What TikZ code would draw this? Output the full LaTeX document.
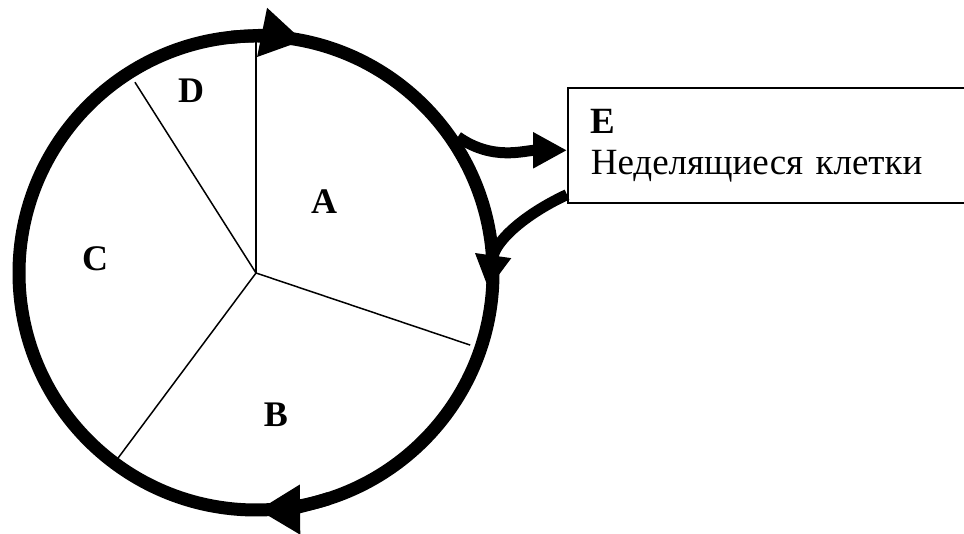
\documentclass[tikz,border=0pt]{standalone}
\usepackage{fontspec}
\setmainfont{Liberation Serif}
\usetikzlibrary{arrows.meta}

\begin{document}
\begin{tikzpicture}[
	x=1pt,y=1pt,
	font=\fontsize{37}{41}\selectfont,
	phase/.style={font=\fontsize{36}{40}\selectfont\bfseries},
	sector/.style={line width=1.5pt},
	ring/.style={circle,draw,line width=13pt,minimum size=474pt,inner sep=0pt},
	cycletip/.style={-{Triangle[length=42pt,width=47pt]},line width=13pt},
	exit/.style={-{Triangle[length=34pt,width=34pt]},line width=11pt},
	cellbox/.style={
		rectangle,draw,line width=1.6pt,align=left,
		text width=354pt,minimum height=115pt,
		inner xsep=23pt,anchor=north west
	}
	]
	\useasboundingbox (0,0) rectangle (964,534);
	
	\node[ring] (cycle) at (256,261) {};
	
	\draw[sector] (cycle.center) -- ++(90:237);
	\draw[sector] (cycle.center) -- ++(122.4:226);
	\draw[sector] (cycle.center) -- ++(233.3:236);
	\draw[sector] (cycle.center) -- ++(-18.6:226);
	
	\draw[cycletip] ([shift={(96:237)}]cycle.center)
	arc[start angle=96,end angle=78.5,radius=237];
	\draw[cycletip] ([shift={(-72:237)}]cycle.center)
	arc[start angle=-72,end angle=-89.5,radius=237];
	
	\node[phase] (A) at (324,332) {A};
	\node[phase] (B) at (276,119) {B};
	\node[phase] (C) at (95,275) {C};
	\node[phase] (D) at (191,443) {D};
	
	\node[cellbox] (quiescent) at (567,447)
	{\textbf{E}\\Неделящиеся клетки};
	
	\path (cycle.center) ++(-4:233) coordinate (reentry);
	
	\draw[exit] (cycle.34) to[out=-35,in=180] ([yshift=-5pt]quiescent.west);
	\draw[exit] ([yshift=9pt]quiescent.south west) to[out=205,in=82] (reentry);
	
\end{tikzpicture}
\end{document}
